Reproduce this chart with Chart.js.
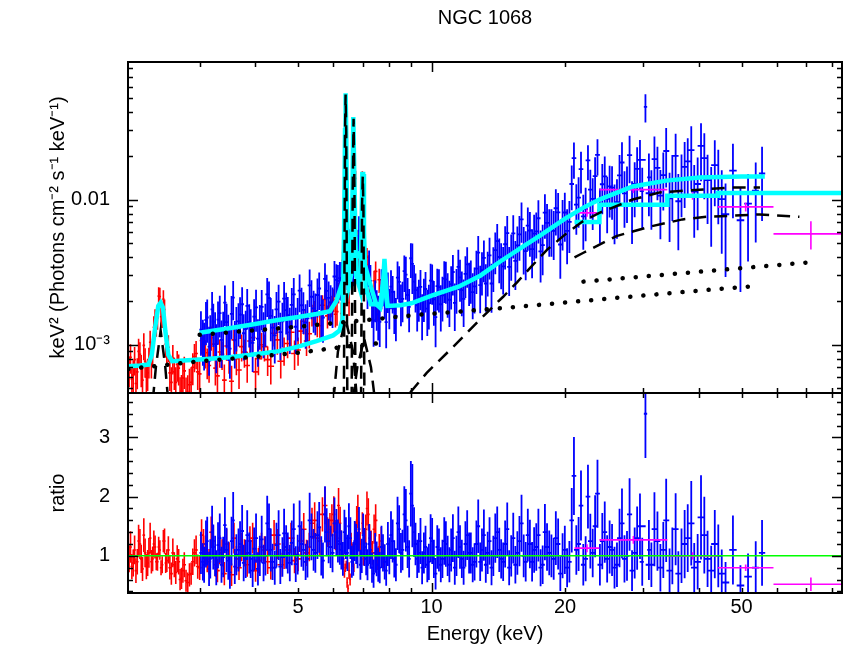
<!DOCTYPE html>
<html>
<head>
<meta charset="utf-8">
<title>NGC 1068</title>
<script src="https://cdn.jsdelivr.net/npm/chart.js@4.4.1/dist/chart.umd.min.js"></script>
<style>
	html, body { margin: 0; padding: 0; background: #fff; }
	#wrap { position: relative; width: 846px; height: 648px; }
	#wrap canvas { position: absolute; left: 0; top: 0; }
</style>
</head>
<body>
<div id="wrap">
	<canvas id="spec" width="846" height="648"></canvas>
	<canvas id="ratio" width="846" height="648"></canvas>
</div>
<script>
// Axis limits
var xMin = 2.068, xMax = 84.2;
var specMin = 4.65e-4, specMax = 0.0886;
var ratioMin = 0.373, ratioMax = 3.75;

// Tick positions and labels
var xTickLabels = [5, 10, 20, 50];
var xTickMajor = [10];
var xTickMinor = [3, 4, 5, 6, 7, 8, 9, 20, 30, 40, 50, 60, 70, 80];
var specTickMajor = [0.001, 0.01];
var specTickText = ['10\u207B\u00B3', '0.01'];
var specTickMinor = [5e-4, 6e-4, 7e-4, 8e-4, 9e-4, 2e-3, 3e-3, 4e-3, 5e-3, 6e-3, 7e-3, 8e-3, 9e-3,
	2e-2, 3e-2, 4e-2, 5e-2, 6e-2, 7e-2, 8e-2];
var ratioTickMajor = [1, 2, 3];
var ratioTickMinor = [0.4, 0.6, 0.8, 1.2, 1.4, 1.6, 1.8, 2.2, 2.4, 2.6, 2.8, 3.2, 3.4, 3.6];

// XMM (red) spectrum, first set of channels
var redE = [2.08, 2.11, 2.14, 2.17, 2.20, 2.23, 2.26, 2.29, 2.32, 2.35,
	2.38, 2.41, 2.44, 2.47, 2.50, 2.53, 2.57, 2.61, 2.65, 2.69,
	2.73, 2.77, 2.82, 2.87, 2.92, 2.97, 3.03, 3.09, 3.15, 3.22,
	3.29, 3.37, 3.45, 3.54, 3.63, 3.73, 3.84, 3.95, 4.07, 4.20,
	4.34, 4.49, 4.65, 4.82, 5.00, 5.15, 5.30, 5.45, 5.60, 5.75,
	5.90, 6.02, 6.12, 6.22, 6.30, 6.36, 6.42, 6.48, 6.55, 6.62,
	6.68, 6.74, 6.82, 6.90, 6.98, 7.06, 7.15, 7.25, 7.36, 7.48,
	7.62, 7.78];
var redFlux = [.00067, .00058, .00079, .00065, .00086, .00057, .00077, .00064, .00104, .00090,
	.00150, .00153, .00215, .00157, .00175, .00092, .00064, .00081, .00055, .00069,
	.00048, .00066, .00047, .00055, .00083, .00065, .00107, .00088, .00072, .00101,
	.00061, .00086, .00098, .00056, .00080, .00097, .00072, .00112, .00080, .00097,
	.00071, .00108, .00092, .00122, .00092, .00145, .00119, .00168, .00135, .00205,
	.00167, .00204, .00169, .00248, .0038, .0175, .0425, .0054, .0036, .022,
	.029, .014, .0053, .0030, .0140, .0066, .0040, .0023, .0018, .0032,
	.0028, .0030];
var redRatio = [0.95, 0.82, 1.10, 0.90, 1.20, 0.78, 1.05, 0.88, 1.30, 0.95,
	1.15, 0.90, 1.10, 0.85, 1.25, 0.92, 0.80, 1.05, 0.72, 0.90,
	0.62, 0.85, 0.55, 0.70, 1.05, 0.82, 1.35, 1.10, 0.90, 1.25,
	0.75, 1.05, 1.20, 0.68, 0.95, 1.15, 0.85, 1.30, 0.92, 1.10,
	0.80, 1.20, 1.00, 1.30, 0.95, 1.45, 1.15, 1.60, 1.25, 1.85,
	1.45, 1.70, 1.30, 1.55, 0.95, 0.70, 0.85, 0.45, 0.60, 1.10,
	0.80, 1.40, 1.75, 1.20, 1.55, 1.10, 1.80, 1.30, 1.05, 1.60,
	1.15, 1.00];
var redErr = [.24, .26, .22, .24, .21, .26, .23, .25, .20, .22,
	.17, .17, .15, .17, .17, .21, .25, .23, .27, .24,
	.29, .25, .31, .27, .22, .25, .20, .22, .24, .21,
	.26, .22, .21, .28, .23, .21, .24, .20, .23, .21,
	.25, .21, .22, .20, .22, .19, .21, .19, .20, .17,
	.19, .18, .20, .18, .15, .10, .08, .15, .17, .10,
	.09, .13, .16, .17, .12, .14, .16, .18, .19, .17,
	.19, .21];

// XMM (red) spectrum, second set of channels
var redBE = [2.095, 2.125, 2.155, 2.185, 2.215, 2.245, 2.275, 2.305, 2.335, 2.365,
	2.395, 2.425, 2.455, 2.485, 2.515, 2.55, 2.59, 2.63, 2.67, 2.71,
	2.75, 2.795, 2.845, 2.895, 2.945, 3.00, 3.06, 3.12, 3.185, 3.255,
	3.33, 3.41, 3.495, 3.585, 3.68, 3.785, 3.895, 4.01, 4.135, 4.27,
	4.415, 4.57, 4.735, 4.91, 5.075, 5.225, 5.375, 5.525, 5.675, 5.825,
	5.96, 6.07, 6.17, 6.26, 6.33, 6.39, 6.45, 6.515, 6.585, 6.65,
	6.71, 6.78, 6.86, 6.94, 7.02, 7.105, 7.20, 7.305, 7.42, 7.55, 7.70];
var redBFlux = [.00082, .00062, .00054, .00090, .00068, .00099, .00060, .00077, .00075, .00132,
	.00135, .00216, .00156, .00206, .00101, .00096, .00055, .00065, .00073, .00046,
	.00059, .00045, .00053, .00070, .00087, .00063, .00095, .00076, .00112, .00069,
	.00089, .00057, .00082, .00108, .00067, .00089, .00106, .00065, .00100, .00079,
	.00120, .00077, .00102, .00087, .00124, .00106, .00161, .00139, .00187, .00158,
	.00186, .00162, .00229, .00164, .00225, .0336, .0033, .00195, .00384, .0252,
	.0125, .00464, .00351, .0055, .0133, .00348, .00357, .00228, .00276, .00181, .00238];
var redBRatio = [1.15, 0.88, 0.75, 1.25, 0.95, 1.35, 0.82, 1.05, 0.90, 1.20,
	0.90, 1.15, 0.80, 1.25, 0.88, 1.10, 0.70, 0.85, 0.95, 0.60,
	0.75, 0.58, 0.68, 0.90, 1.10, 0.80, 1.20, 0.95, 1.40, 0.85,
	1.10, 0.70, 1.00, 1.30, 0.80, 1.05, 1.25, 0.75, 1.15, 0.90,
	1.35, 0.85, 1.10, 0.92, 1.25, 1.05, 1.55, 1.30, 1.70, 1.40,
	1.60, 1.35, 1.85, 1.20, 0.90, 0.80, 0.55, 0.75, 1.20, 0.90,
	1.25, 1.60, 1.35, 1.10, 0.95, 1.45, 1.70, 1.20, 1.45, 0.95, 1.25];
var redBErr = [.23, .26, .28, .22, .25, .21, .26, .24, .22, .19,
	.16, .15, .16, .15, .19, .21, .27, .25, .24, .30,
	.27, .32, .29, .25, .22, .26, .21, .24, .19, .24,
	.22, .28, .23, .20, .26, .22, .20, .25, .21, .23,
	.19, .24, .21, .23, .19, .21, .17, .19, .17, .18,
	.17, .19, .16, .19, .15, .09, .16, .19, .16, .10,
	.12, .15, .17, .15, .12, .17, .16, .19, .17, .20, .19];

// NuSTAR (blue) spectrum, module A
var blueE = [3.02, 3.07, 3.12, 3.17, 3.22, 3.27, 3.33, 3.39, 3.45, 3.51,
	3.57, 3.63, 3.70, 3.77, 3.84, 3.91, 3.98, 4.06, 4.14, 4.22,
	4.30, 4.38, 4.47, 4.56, 4.65, 4.74, 4.84, 4.94, 5.04, 5.14,
	5.25, 5.36, 5.47, 5.58, 5.69, 5.80, 5.92, 6.04, 6.15, 6.26,
	6.36, 6.46, 6.56, 6.66, 6.76, 6.86, 6.96, 7.06, 7.17, 7.28,
	7.40, 7.52, 7.64, 7.77, 7.90, 8.03, 8.17, 8.31, 8.45, 8.60,
	8.75, 8.90, 9.05, 9.20, 9.36, 9.52, 9.69, 9.86, 10.03, 10.21,
	10.39, 10.58, 10.77, 10.97, 11.17, 11.38, 11.59, 11.81, 12.03, 12.26,
	12.50, 12.74, 12.99, 13.25, 13.51, 13.78, 14.06, 14.35, 14.65, 14.96,
	15.28, 15.61, 15.95, 16.30, 16.66, 17.03, 17.41, 17.80, 18.21, 18.63,
	19.06, 19.51, 19.97, 20.45, 20.94, 21.45, 21.98, 22.52, 23.08, 23.66,
	24.26, 24.88, 25.52, 26.18, 26.87, 27.58, 28.31, 29.07, 29.85, 30.35,
	30.9, 31.8, 32.8, 33.8, 34.9, 36.0, 37.2, 38.5, 39.8, 41.2,
	42.7, 44.3, 46.0, 47.8, 49.7, 51.7, 53.8, 55.6];
var blueFlux = [.00127, .00104, .00154, .00118, .00144, .00101, .00165, .00125, .00143, .00094,
	.00211, .00136, .00161, .00120, .00185, .00131, .00156, .00110, .00182, .00144,
	.00210, .00131, .00175, .00122, .00208, .00160, .00188, .00133, .00236, .00174,
	.00152, .00214, .00171, .00244, .00154, .00235, .00196, .00295, .00275, .00286,
	.00406, .00336, .00455, .00361, .00480, .00610, .00420, .00414, .00255, .00275,
	.00147, .00181, .00144, .00263, .00143, .00185, .00231, .00158, .00271, .00207,
	.00304, .00182, .00361, .00238, .00212, .00165, .00242, .00193, .00273, .00155,
	.00249, .00219, .00282, .00204, .00317, .00248, .00291, .00207, .00358, .00286,
	.00252, .00431, .00326, .00264, .00413, .00350, .00518, .00371, .00492, .00344,
	.00585, .00483, .00729, .00441, .00612, .00583, .00743, .00485, .00690, .00630,
	.00871, .00490, .00814, .00702, .0193, .0103, .00765, .0186, .0101, .0203,
	.01275, .0101, .0121, .0096, .0180, .0119, .00915, .01625, .01143, .0435,
	.0142, .0190, .01064, .0216, .0137, .00973, .0168, .0219, .0128, .0193,
	.01073, .0144, .00792, .01584, .0072, .00936, .01152, .01512];
var blueRatio = [1.05, 0.85, 1.25, 0.95, 1.15, 0.80, 1.30, 0.98, 1.10, 0.72,
	1.60, 1.02, 1.20, 0.88, 1.35, 0.95, 1.12, 0.78, 1.28, 1.00,
	1.45, 0.90, 1.18, 0.82, 1.38, 1.05, 1.22, 0.86, 1.50, 1.10,
	0.95, 1.32, 1.05, 1.48, 0.92, 1.40, 1.15, 1.55, 1.25, 1.10,
	1.40, 1.05, 1.30, 0.95, 1.20, 1.45, 1.00, 1.15, 0.85, 1.10,
	0.70, 0.95, 0.80, 1.05, 0.75, 1.00, 1.25, 0.85, 1.45, 1.10,
	1.60, 0.95, 1.85, 1.20, 1.05, 0.80, 1.15, 0.90, 1.25, 0.70,
	1.10, 0.95, 1.20, 0.85, 1.30, 1.00, 1.15, 0.80, 1.35, 1.05,
	0.90, 1.50, 1.10, 0.85, 1.25, 1.00, 1.40, 0.95, 1.20, 0.80,
	1.30, 1.05, 1.55, 0.90, 1.20, 1.10, 1.35, 0.85, 1.15, 1.00,
	1.30, 0.70, 1.10, 0.90, 2.35, 1.20, 0.85, 2.00, 1.05, 2.05,
	1.25, 0.95, 1.10, 0.85, 1.55, 1.00, 0.75, 1.30, 0.90, 3.40,
	1.10, 1.45, 0.80, 1.60, 1.00, 0.70, 1.20, 1.55, 0.90, 1.35,
	0.75, 1.00, 0.55, 1.10, 0.50, 0.65, 0.80, 1.05];
var blueErr = [.34, .36, .33, .35, .33, .37, .32, .35, .34, .38,
	.30, .34, .32, .35, .31, .34, .32, .36, .31, .33,
	.30, .34, .32, .36, .30, .33, .31, .35, .29, .32,
	.33, .30, .32, .29, .33, .29, .31, .28, .29, .30,
	.27, .29, .27, .30, .28, .26, .29, .28, .31, .29,
	.34, .31, .33, .30, .34, .31, .29, .33, .28, .31,
	.33, .33, .38, .30, .32, .35, .31, .34, .31, .38,
	.33, .34, .32, .35, .31, .34, .32, .36, .31, .33,
	.35, .30, .33, .36, .32, .34, .31, .35, .33, .37,
	.33, .35, .31, .37, .34, .35, .33, .38, .35, .36,
	.35, .42, .37, .39, .28, .38, .41, .27, .39, .28,
	.38, .42, .40, .44, .38, .42, .46, .41, .45, .22,
	.46, .43, .50, .44, .48, .54, .48, .46, .52, .48,
	.56, .53, .63, .53, .68, .60, .56, .53];

// NuSTAR (blue) spectrum, module B
var blueBE = [3.05, 3.10, 3.15, 3.20, 3.25, 3.30, 3.36, 3.42, 3.48, 3.54,
	3.60, 3.67, 3.74, 3.81, 3.88, 3.95, 4.02, 4.10, 4.18, 4.26,
	4.34, 4.43, 4.52, 4.61, 4.70, 4.79, 4.89, 4.99, 5.09, 5.20,
	5.31, 5.42, 5.53, 5.64, 5.75, 5.86, 5.98, 6.10, 6.21, 6.31,
	6.41, 6.51, 6.61, 6.71, 6.81, 6.91, 7.01, 7.12, 7.23, 7.34,
	7.46, 7.58, 7.71, 7.84, 7.97, 8.10, 8.24, 8.38, 8.53, 8.68,
	8.83, 8.98, 9.13, 9.28, 9.44, 9.61, 9.78, 9.95, 10.12, 10.30,
	10.49, 10.68, 10.87, 11.07, 11.28, 11.49, 11.70, 11.92, 12.15, 12.38,
	12.62, 12.87, 13.12, 13.38, 13.65, 13.92, 14.21, 14.50, 14.81, 15.12,
	15.45, 15.78, 16.13, 16.48, 16.85, 17.22, 17.61, 18.01, 18.42, 18.85,
	19.29, 19.74, 20.21, 20.70, 21.20, 21.72, 22.25, 22.80, 23.37, 23.96,
	24.57, 25.20, 25.85, 26.53, 27.22, 27.95, 28.70, 29.5, 31.3, 32.3,
	33.3, 34.4, 35.5, 36.6, 37.8, 39.1, 40.5, 41.9, 43.5, 45.1];
var blueBFlux = [.00110, .00148, .00097, .00175, .00125, .00149, .00108, .00195, .00119, .00163,
	.00107, .00145, .00190, .00128, .00143, .00103, .00181, .00140, .00124, .00222,
	.00158, .00116, .00198, .00145, .00173, .00133, .00222, .00158, .00187, .00142,
	.00256, .00178, .00220, .00165, .00284, .00210, .00189, .00280, .00288, .00257,
	.00390, .00495, .00320, .00475, .00446, .00366, .00520, .00314, .00348, .00192,
	.00210, .00162, .00253, .00225, .00240, .00251, .00177, .00290, .00197, .00321,
	.00220, .00394, .00272, .00187, .00250, .00214, .00177, .00276, .00205, .00253,
	.00190, .00285, .00232, .00261, .00194, .00344, .00238, .00308, .00276, .00230,
	.00334, .00257, .00396, .00326, .00264, .00449, .00402, .00347, .00587, .00425,
	.00378, .00575, .00475, .00662, .00455, .00604, .00440, .00812, .00630, .00608,
	.00816, .00720, .00608, .01280, .00924, .01619, .00860, .01169, .01448, .00846,
	.01442, .01231, .00880, .01469, .01102, .02023, .01281, .01875, .01105, .01650,
	.01474, .01020, .02001, .01400, .01833, .01136, .02343, .01359, .01728, .01008];
var blueBRatio = [0.90, 1.20, 0.78, 1.40, 1.00, 1.18, 0.85, 1.52, 0.92, 1.25,
	0.82, 1.10, 1.42, 0.95, 1.05, 0.75, 1.30, 1.00, 0.88, 1.55,
	1.10, 0.80, 1.35, 0.98, 1.15, 0.88, 1.45, 1.02, 1.20, 0.90,
	1.60, 1.10, 1.35, 1.00, 1.70, 1.25, 1.05, 1.40, 1.20, 0.95,
	1.30, 1.50, 0.90, 1.25, 1.10, 0.85, 1.35, 0.95, 1.20, 0.80,
	1.05, 0.85, 1.15, 0.90, 1.20, 1.35, 0.95, 1.55, 1.05, 1.70,
	1.15, 2.05, 1.40, 0.95, 1.25, 1.05, 0.85, 1.30, 0.95, 1.15,
	0.85, 1.25, 1.00, 1.10, 0.80, 1.40, 0.95, 1.20, 1.05, 0.85,
	1.20, 0.90, 1.35, 1.05, 0.80, 1.30, 1.10, 0.90, 1.45, 1.00,
	0.85, 1.25, 1.00, 1.35, 0.90, 1.15, 0.80, 1.40, 1.05, 0.95,
	1.20, 1.00, 0.80, 1.60, 1.10, 1.85, 0.95, 1.25, 1.50, 0.85,
	1.40, 1.15, 0.80, 1.30, 0.95, 1.70, 1.05, 1.50, 0.85, 1.25,
	1.10, 0.75, 1.45, 1.00, 1.30, 0.80, 1.65, 0.95, 1.20, 0.70];
var blueBErr = [.35, .33, .37, .32, .34, .33, .36, .31, .35, .33,
	.36, .33, .31, .34, .33, .37, .32, .34, .35, .30,
	.33, .36, .31, .34, .32, .35, .30, .33, .32, .34,
	.29, .32, .30, .33, .28, .30, .31, .28, .29, .30,
	.27, .26, .30, .27, .28, .30, .27, .29, .28, .32,
	.32, .34, .31, .33, .31, .30, .33, .29, .32, .28,
	.31, .27, .30, .34, .31, .33, .35, .31, .34, .32,
	.35, .32, .34, .33, .36, .31, .34, .32, .33, .35,
	.33, .36, .32, .34, .37, .32, .34, .36, .31, .35,
	.37, .34, .36, .33, .37, .35, .39, .34, .36, .37,
	.36, .38, .41, .34, .38, .32, .40, .37, .35, .41,
	.37, .39, .44, .38, .42, .36, .41, .37, .44, .40,
	.43, .50, .42, .46, .44, .52, .43, .50, .48, .58];

// Swift/BAT (magenta) spectrum, bins
var magLo = [21.0, 23.9, 34.0, 44.2, 59.0];
var magHi = [23.9, 34.0, 44.2, 59.0, 87.0];
var magFlux = [0.0081, 0.0117, 0.0106, 0.0089, 0.0058];
var magRatio = [1.13, 1.27, 1.00, 0.80, 0.52];
var magErr = [0.06, 0.05, 0.06, 0.07, 0.22];
var magModel = [0.0070, 0.0092, 0.0106, 0.0111, 0.0111];

// Total models (cyan)
var redModelE = [2.07, 2.20, 2.30, 2.34, 2.38, 2.42, 2.45, 2.48, 2.51, 2.55, 2.60,
	3.0, 3.5, 4.0, 4.5, 5.0, 5.5, 6.0, 6.2, 6.30, 6.35, 6.38, 6.40, 6.42, 6.45,
	6.50, 6.58, 6.63, 6.66, 6.68, 6.71, 6.76, 6.90, 6.95, 6.98, 7.01, 7.04, 7.10,
	7.30, 7.70, 7.78, 7.83, 7.88, 7.95, 8.0];
var redModelFlux = [0.00071, 0.00072, 0.00073, 0.00085, 0.00130, 0.00185, 0.00195, 0.00180, 0.00125, 0.00085, 0.00077,
	0.00079, 0.00082, 0.00086, 0.00090, 0.00097, 0.00106, 0.00116, 0.00125, 0.00150, 0.0060, 0.030, 0.054, 0.030, 0.0060,
	0.0025, 0.0030, 0.0100, 0.037, 0.037, 0.0100, 0.0030, 0.0024, 0.0060, 0.0150, 0.0150, 0.0060, 0.0025,
	0.0019, 0.0019, 0.0028, 0.0039, 0.0028, 0.0019, 0.0019];
var blueModelE = [3.0, 3.5, 4.0, 4.5, 5.0, 5.5, 5.9, 6.1, 6.3, 6.5, 6.7, 6.9, 7.1, 7.3, 7.5, 7.65, 7.75,
	7.85, 7.95, 8.5, 9.0, 10.0, 11.5, 12.9, 14.2, 16.0, 17.8, 20.0, 22.0, 23.9, 28.4, 33.8, 40.2, 50.0, 56.4];
var blueModelFlux = [0.00121, 0.00130, 0.00139, 0.00148, 0.00155, 0.00163, 0.00170, 0.00200, 0.00270, 0.00330,
	0.00380, 0.00430, 0.00340, 0.00250, 0.00190, 0.00180, 0.00250, 0.00250, 0.00185, 0.00187, 0.00193,
	0.00218, 0.00251, 0.00300, 0.00370, 0.00470, 0.00580, 0.00740, 0.00880, 0.01000, 0.01230, 0.01350,
	0.01420, 0.01440, 0.01440];

// Model components (black)
var nuReflE = [8.5, 8.94, 9.75, 11.2, 12.85, 14.5, 15.6, 16.7, 18.2, 19.8, 21.8, 23.9, 28.4, 32.7, 40.2, 47.7, 55.0];
var nuReflFlux = [0.00035, 0.000467, 0.00064, 0.00097, 0.00149, 0.00214, 0.0027, 0.0034, 0.0045, 0.0056, 0.0070,
	0.0081, 0.0100, 0.0112, 0.0117, 0.0121, 0.0121];
var batReflE = [21.0, 22.0, 26.1, 31.0, 36.8, 41.6, 54.9, 67.5];
var batReflFlux = [0.0040, 0.0043, 0.0056, 0.0065, 0.0073, 0.0076, 0.0079, 0.0076];
var plXmmE = [2.07, 3.0, 3.9, 5.0, 6.2, 8.0];
var plXmmFlux = [0.00068, 0.00077, 0.00082, 0.00088, 0.00096, 0.00104];
var plNuE = [3.0, 5.0, 9.4, 15.8, 26.5, 40.2, 55.0];
var plNuFlux = [0.00117, 0.00133, 0.00161, 0.00183, 0.00211, 0.00236, 0.00255];
var plBatE = [22.0, 70.0];
var plBatFlux = [0.00272, 0.00368];
var line245E = [2.33, 2.39, 2.45, 2.51, 2.57];
var line245Flux = [0.0003, 0.0007, 0.00125, 0.0007, 0.0003];
var line640E = [6.34, 6.38, 6.40, 6.42, 6.46];
var line640Flux = [0.0003, 0.029, 0.053, 0.029, 0.0003];
var line667E = [6.60, 6.64, 6.67, 6.70, 6.74];
var line667Flux = [0.0003, 0.012, 0.036, 0.012, 0.0003];
var line700E = [6.93, 6.97, 6.995, 7.02, 7.06];
var line700Flux = [0.0003, 0.009, 0.0145, 0.009, 0.0003];
var nuLine1E = [5.95, 6.15, 6.40, 6.65, 6.85];
var nuLine1Flux = [0.0003, 0.0009, 0.0015, 0.0009, 0.0003];
var nuLine2E = [6.55, 6.80, 7.05, 7.30, 7.55];
var nuLine2Flux = [0.0003, 0.0007, 0.0011, 0.0007, 0.0003];

(function() {
	'use strict';

	var FONT = "'Liberation Sans', Arial, Helvetica, sans-serif";
	Chart.defaults.font.family = FONT;
	Chart.defaults.font.size = 20;
	Chart.defaults.color = '#000';

	function pts(xs, ys) {
		return xs.map(function(x, i) { return {x: x, y: ys[i]}; });
	}

	// channel edges halfway (in log) between neighbours
	function edges(e) {
		var lo = [], hi = [];
		for (var i = 0; i < e.length; i++) {
			var prev = i > 0 ? e[i - 1] : e[i] * e[i] / e[i + 1];
			var next = i < e.length - 1 ? e[i + 1] : e[i] * e[i] / e[i - 1];
			lo.push(Math.sqrt(prev * e[i]));
			hi.push(Math.sqrt(e[i] * next));
		}
		return {lo: lo, hi: hi};
	}

	function crosses(e, lo, hi, val, rel) {
		var out = [];
		for (var i = 0; i < e.length; i++) {
			var d = val[i] * rel[i];
			out.push({x: lo[i], y: val[i]}, {x: hi[i], y: val[i]}, {x: e[i], y: null},
				{x: e[i], y: val[i] - d}, {x: e[i], y: val[i] + d}, {x: e[i], y: null});
		}
		return out;
	}

	function steps(lo, hi, val) {
		var out = [];
		for (var i = 0; i < lo.length; i++) {
			out.push({x: lo[i], y: val[i]}, {x: hi[i], y: val[i]});
		}
		return out;
	}

	function ds(data, color, width, order, extra) {
		var d = {
			data: data,
			borderColor: color,
			borderWidth: width,
			pointRadius: 0,
			fill: false,
			tension: 0,
			spanGaps: false,
			clip: 0,
			order: order
		};
		if (extra) {
			for (var k in extra) d[k] = extra[k];
		}
		return d;
	}

	var dashed = {borderDash: [13, 8]};
	var dotted = {borderDash: [0.1, 13], borderCapStyle: 'round'};

	var redEd = edges(redE), redBEd = edges(redBE);
	var blueEd = edges(blueE), blueBEd = edges(blueBE);
	var magE = magLo.map(function(lo, i) { return Math.sqrt(lo * magHi[i]); });

	// inward ticks and frame, drawn through the chart's own scales
	var frameTicks = {
		id: 'frameTicks',
		afterDraw: function(chart, args, opts) {
			var ctx = chart.ctx, a = chart.chartArea;
			var xs = chart.scales.x, ys = chart.scales.y;
			ctx.save();
			ctx.strokeStyle = '#000';
			ctx.lineWidth = 1.5;
			ctx.beginPath();
			function xt(v, len) {
				var px = Math.round(xs.getPixelForValue(v)) + 0.5;
				ctx.moveTo(px, a.top); ctx.lineTo(px, a.top + len);
				ctx.moveTo(px, a.bottom); ctx.lineTo(px, a.bottom - len);
			}
			function yt(v, len) {
				var py = Math.round(ys.getPixelForValue(v)) + 0.5;
				ctx.moveTo(a.left, py); ctx.lineTo(a.left + len, py);
				ctx.moveTo(a.right, py); ctx.lineTo(a.right - len, py);
			}
			xTickMinor.forEach(function(v) { xt(v, 5); });
			xTickMajor.forEach(function(v) { xt(v, 10); });
			opts.yMinor.forEach(function(v) { yt(v, 5); });
			opts.yMajor.forEach(function(v) { yt(v, 10); });
			ctx.stroke();
			ctx.lineWidth = 2;
			ctx.strokeRect(a.left, a.top, a.right - a.left, a.bottom - a.top);
			ctx.restore();
		}
	};

	var noGrid = {display: false, drawTicks: false};

	// Spectrum panel
	new Chart(document.getElementById('spec'), {
		type: 'line',
		data: {
			datasets: [
				ds(pts(line245E, line245Flux), '#000', 2.5, 1, dashed),
				ds(pts(line640E, line640Flux), '#000', 2.5, 1, dashed),
				ds(pts(line667E, line667Flux), '#000', 2.5, 1, dashed),
				ds(pts(line700E, line700Flux), '#000', 2.5, 1, dashed),
				ds(pts(nuLine1E, nuLine1Flux), '#000', 2.5, 1, dashed),
				ds(pts(nuLine2E, nuLine2Flux), '#000', 2.5, 1, dashed),
				ds(pts(nuReflE, nuReflFlux), '#000', 2.5, 1, dashed),
				ds(pts(batReflE, batReflFlux), '#000', 2.5, 1, dashed),
				ds(pts(plXmmE, plXmmFlux), '#000', 4.5, 1, dotted),
				ds(pts(plNuE, plNuFlux), '#000', 4.5, 1, dotted),
				ds(pts(plBatE, plBatFlux), '#000', 4.5, 1, dotted),
				ds(pts(redModelE, redModelFlux), '#00ffff', 4.5, 2),
				ds(pts(blueModelE, blueModelFlux), '#00ffff', 4.5, 2),
				ds(steps(magLo, magHi, magModel), '#00ffff', 4.5, 2),
				ds(crosses(magE, magLo, magHi, magFlux, magErr), '#ff00ff', 1.6, 3),
				ds(crosses(blueE, blueEd.lo, blueEd.hi, blueFlux, blueErr), '#0000ff', 1.8, 4),
				ds(crosses(blueBE, blueBEd.lo, blueBEd.hi, blueBFlux, blueBErr), '#0000ff', 1.8, 4),
				ds(crosses(redE, redEd.lo, redEd.hi, redFlux, redErr), '#ff0000', 1.6, 5),
				ds(crosses(redBE, redBEd.lo, redBEd.hi, redBFlux, redBErr), '#ff0000', 1.6, 5)
			]
		},
		options: {
			responsive: false,
			animation: false,
			devicePixelRatio: 1,
			events: [],
			layout: {autoPadding: false, padding: {left: 0, right: 4, top: 0, bottom: 255}},
			plugins: {
				legend: {display: false},
				tooltip: {enabled: false},
				frameTicks: {yMajor: specTickMajor, yMinor: specTickMinor}
			},
			scales: {
				x: {
					type: 'logarithmic', position: 'top', min: xMin, max: xMax, bounds: 'data',
					ticks: {display: false},
					grid: noGrid,
					border: {display: false},
					title: {display: true, text: 'NGC 1068', font: {size: 20}, padding: {top: 6, bottom: 0}},
					afterFit: function(s) { s.height = 62; }
				},
				y: {
					type: 'logarithmic', position: 'left', min: specMin, max: specMax, bounds: 'data',
					afterBuildTicks: function(s) {
						s.ticks = specTickMajor.map(function(v) { return {value: v}; });
					},
					ticks: {
						autoSkip: false,
						padding: 18,
						font: {size: 20},
						callback: function(v) { return specTickText[specTickMajor.indexOf(v)]; }
					},
					grid: noGrid,
					border: {display: false},
					title: {
						display: true,
						text: 'keV\u00B2 (Photons cm\u207B\u00B2 s\u207B\u00B9 keV\u207B\u00B9)',
						font: {size: 20},
						padding: {top: 46, bottom: 0}
					},
					afterFit: function(s) { s.width = 128; }
				}
			}
		},
		plugins: [frameTicks]
	});

	// Ratio panel
	new Chart(document.getElementById('ratio'), {
		type: 'line',
		data: {
			datasets: [
				ds([{x: xMin, y: 1}, {x: xMax, y: 1}], '#00ff00', 1.5, 0),
				ds(crosses(magE, magLo, magHi, magRatio, magErr), '#ff00ff', 1.6, 3),
				ds(crosses(blueE, blueEd.lo, blueEd.hi, blueRatio, blueErr), '#0000ff', 1.8, 4),
				ds(crosses(blueBE, blueBEd.lo, blueBEd.hi, blueBRatio, blueBErr), '#0000ff', 1.8, 4),
				ds(crosses(redE, redEd.lo, redEd.hi, redRatio, redErr), '#ff0000', 1.6, 5),
				ds(crosses(redBE, redBEd.lo, redBEd.hi, redBRatio, redBErr), '#ff0000', 1.6, 5)
			]
		},
		options: {
			responsive: false,
			animation: false,
			devicePixelRatio: 1,
			events: [],
			layout: {autoPadding: false, padding: {left: 0, right: 4, top: 393, bottom: 0}},
			plugins: {
				legend: {display: false},
				tooltip: {enabled: false},
				frameTicks: {yMajor: ratioTickMajor, yMinor: ratioTickMinor}
			},
			scales: {
				x: {
					type: 'logarithmic', position: 'bottom', min: xMin, max: xMax, bounds: 'data',
					afterBuildTicks: function(s) {
						s.ticks = xTickLabels.map(function(v) { return {value: v}; });
					},
					ticks: {
						autoSkip: false,
						maxRotation: 0,
						padding: 2,
						font: {size: 20},
						callback: function(v) { return String(v); }
					},
					grid: noGrid,
					border: {display: false},
					title: {display: true, text: 'Energy (keV)', font: {size: 20}, padding: {top: 0, bottom: 2}},
					afterFit: function(s) { s.height = 55; }
				},
				y: {
					type: 'linear', position: 'left', min: ratioMin, max: ratioMax, bounds: 'data',
					afterBuildTicks: function(s) {
						s.ticks = ratioTickMajor.map(function(v) { return {value: v}; });
					},
					ticks: {autoSkip: false, padding: 18, font: {size: 20}},
					grid: noGrid,
					border: {display: false},
					title: {display: true, text: 'ratio', font: {size: 20}, padding: {top: 46, bottom: 0}},
					afterFit: function(s) { s.width = 128; }
				}
			}
		},
		plugins: [frameTicks]
	});
})();
</script>
</body>
</html>
